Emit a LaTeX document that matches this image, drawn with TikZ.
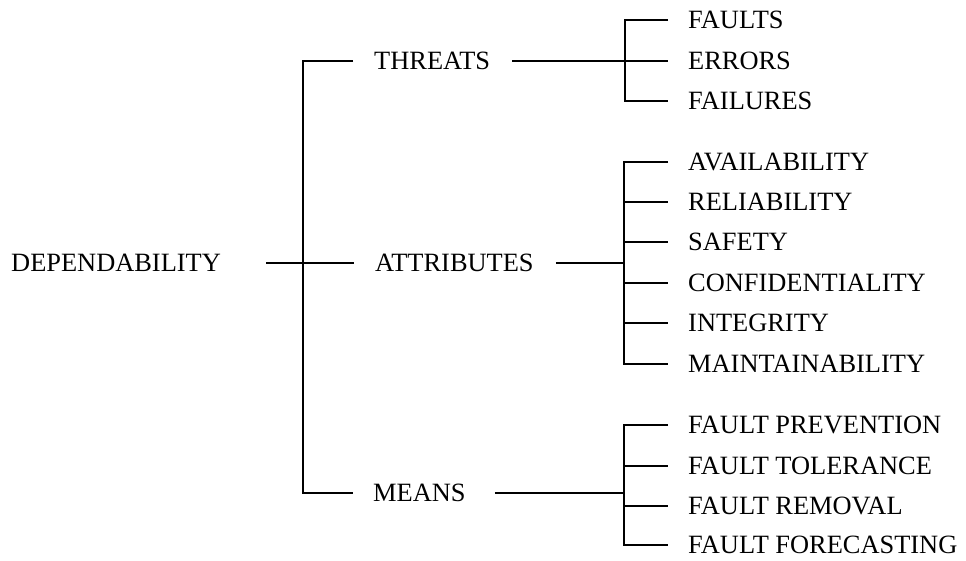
\documentclass[tikz,border=0pt]{standalone}
\usepackage{fontspec}
\setmainfont{Liberation Serif}
\begin{document}
\begin{tikzpicture}[x=1pt,y=-1pt,
  lbl/.style={anchor=west,inner sep=0pt,font=\fontsize{26.4}{30}\selectfont},
  conn/.style={line width=1.6pt,line cap=butt}]
\useasboundingbox (0,0) rectangle (966,560);
% labels
\node[lbl] (dep) at (11,263) {DEPENDABILITY};
\node[lbl] (thr) at (374,61) {THREATS};
\node[lbl] (att) at (375,263) {ATTRIBUTES};
\node[lbl] (mea) at (373,493) {MEANS};
\node[lbl] (l1) at (688,20) {FAULTS};
\node[lbl] (l2) at (688,61) {ERRORS};
\node[lbl] (l3) at (688,101) {FAILURES};
\node[lbl] (a1) at (688,162) {AVAILABILITY};
\node[lbl] (a2) at (688,202) {RELIABILITY};
\node[lbl] (a3) at (688,242) {SAFETY};
\node[lbl] (a4) at (688,283) {CONFIDENTIALITY};
\node[lbl] (a5) at (688,323) {INTEGRITY};
\node[lbl] (a6) at (688,364) {MAINTAINABILITY};
\node[lbl] (m1) at (688,425) {FAULT PREVENTION};
\node[lbl] (m2) at (688,466) {FAULT TOLERANCE};
\node[lbl] (m3) at (688,506) {FAULT REMOVAL};
\node[lbl] (m4) at (688,545) {FAULT FORECASTING};
% junctions
\coordinate (j0t) at (303,61);
\coordinate (j0b) at (303,493);
\coordinate (jt) at (625,61);
\coordinate (ja) at (624,263);
\coordinate (jm) at (624,493);
% root
\draw[conn] ([xshift=45pt]dep.east) -- ([xshift=-21pt]att.west);
\draw[conn] ([xshift=-21pt]thr.west) -- (j0t) -- (j0b) -- ([xshift=-20pt]mea.west);
% threats
\draw[conn] ([xshift=22pt]thr.east) -- (jt);
\draw[conn] ([xshift=-20pt]l1.west) -| (jt |- l3.west) -- ([xshift=-20pt]l3.west);
\draw[conn] (jt) -- ([xshift=-20pt]l2.west);
% attributes
\draw[conn] ([xshift=22pt]att.east) -- (ja);
\draw[conn] ([xshift=-20pt]a1.west) -| (ja |- a6.west) -- ([xshift=-20pt]a6.west);
\foreach \n in {a2,a3,a4,a5}
  \draw[conn] (ja |- \n.west) -- ([xshift=-20pt]\n.west);
% means
\draw[conn] ([xshift=29pt]mea.east) -- (jm);
\draw[conn] ([xshift=-20pt]m1.west) -| (jm |- m4.west) -- ([xshift=-20pt]m4.west);
\foreach \n in {m2,m3}
  \draw[conn] (jm |- \n.west) -- ([xshift=-20pt]\n.west);
\end{tikzpicture}
\end{document}
